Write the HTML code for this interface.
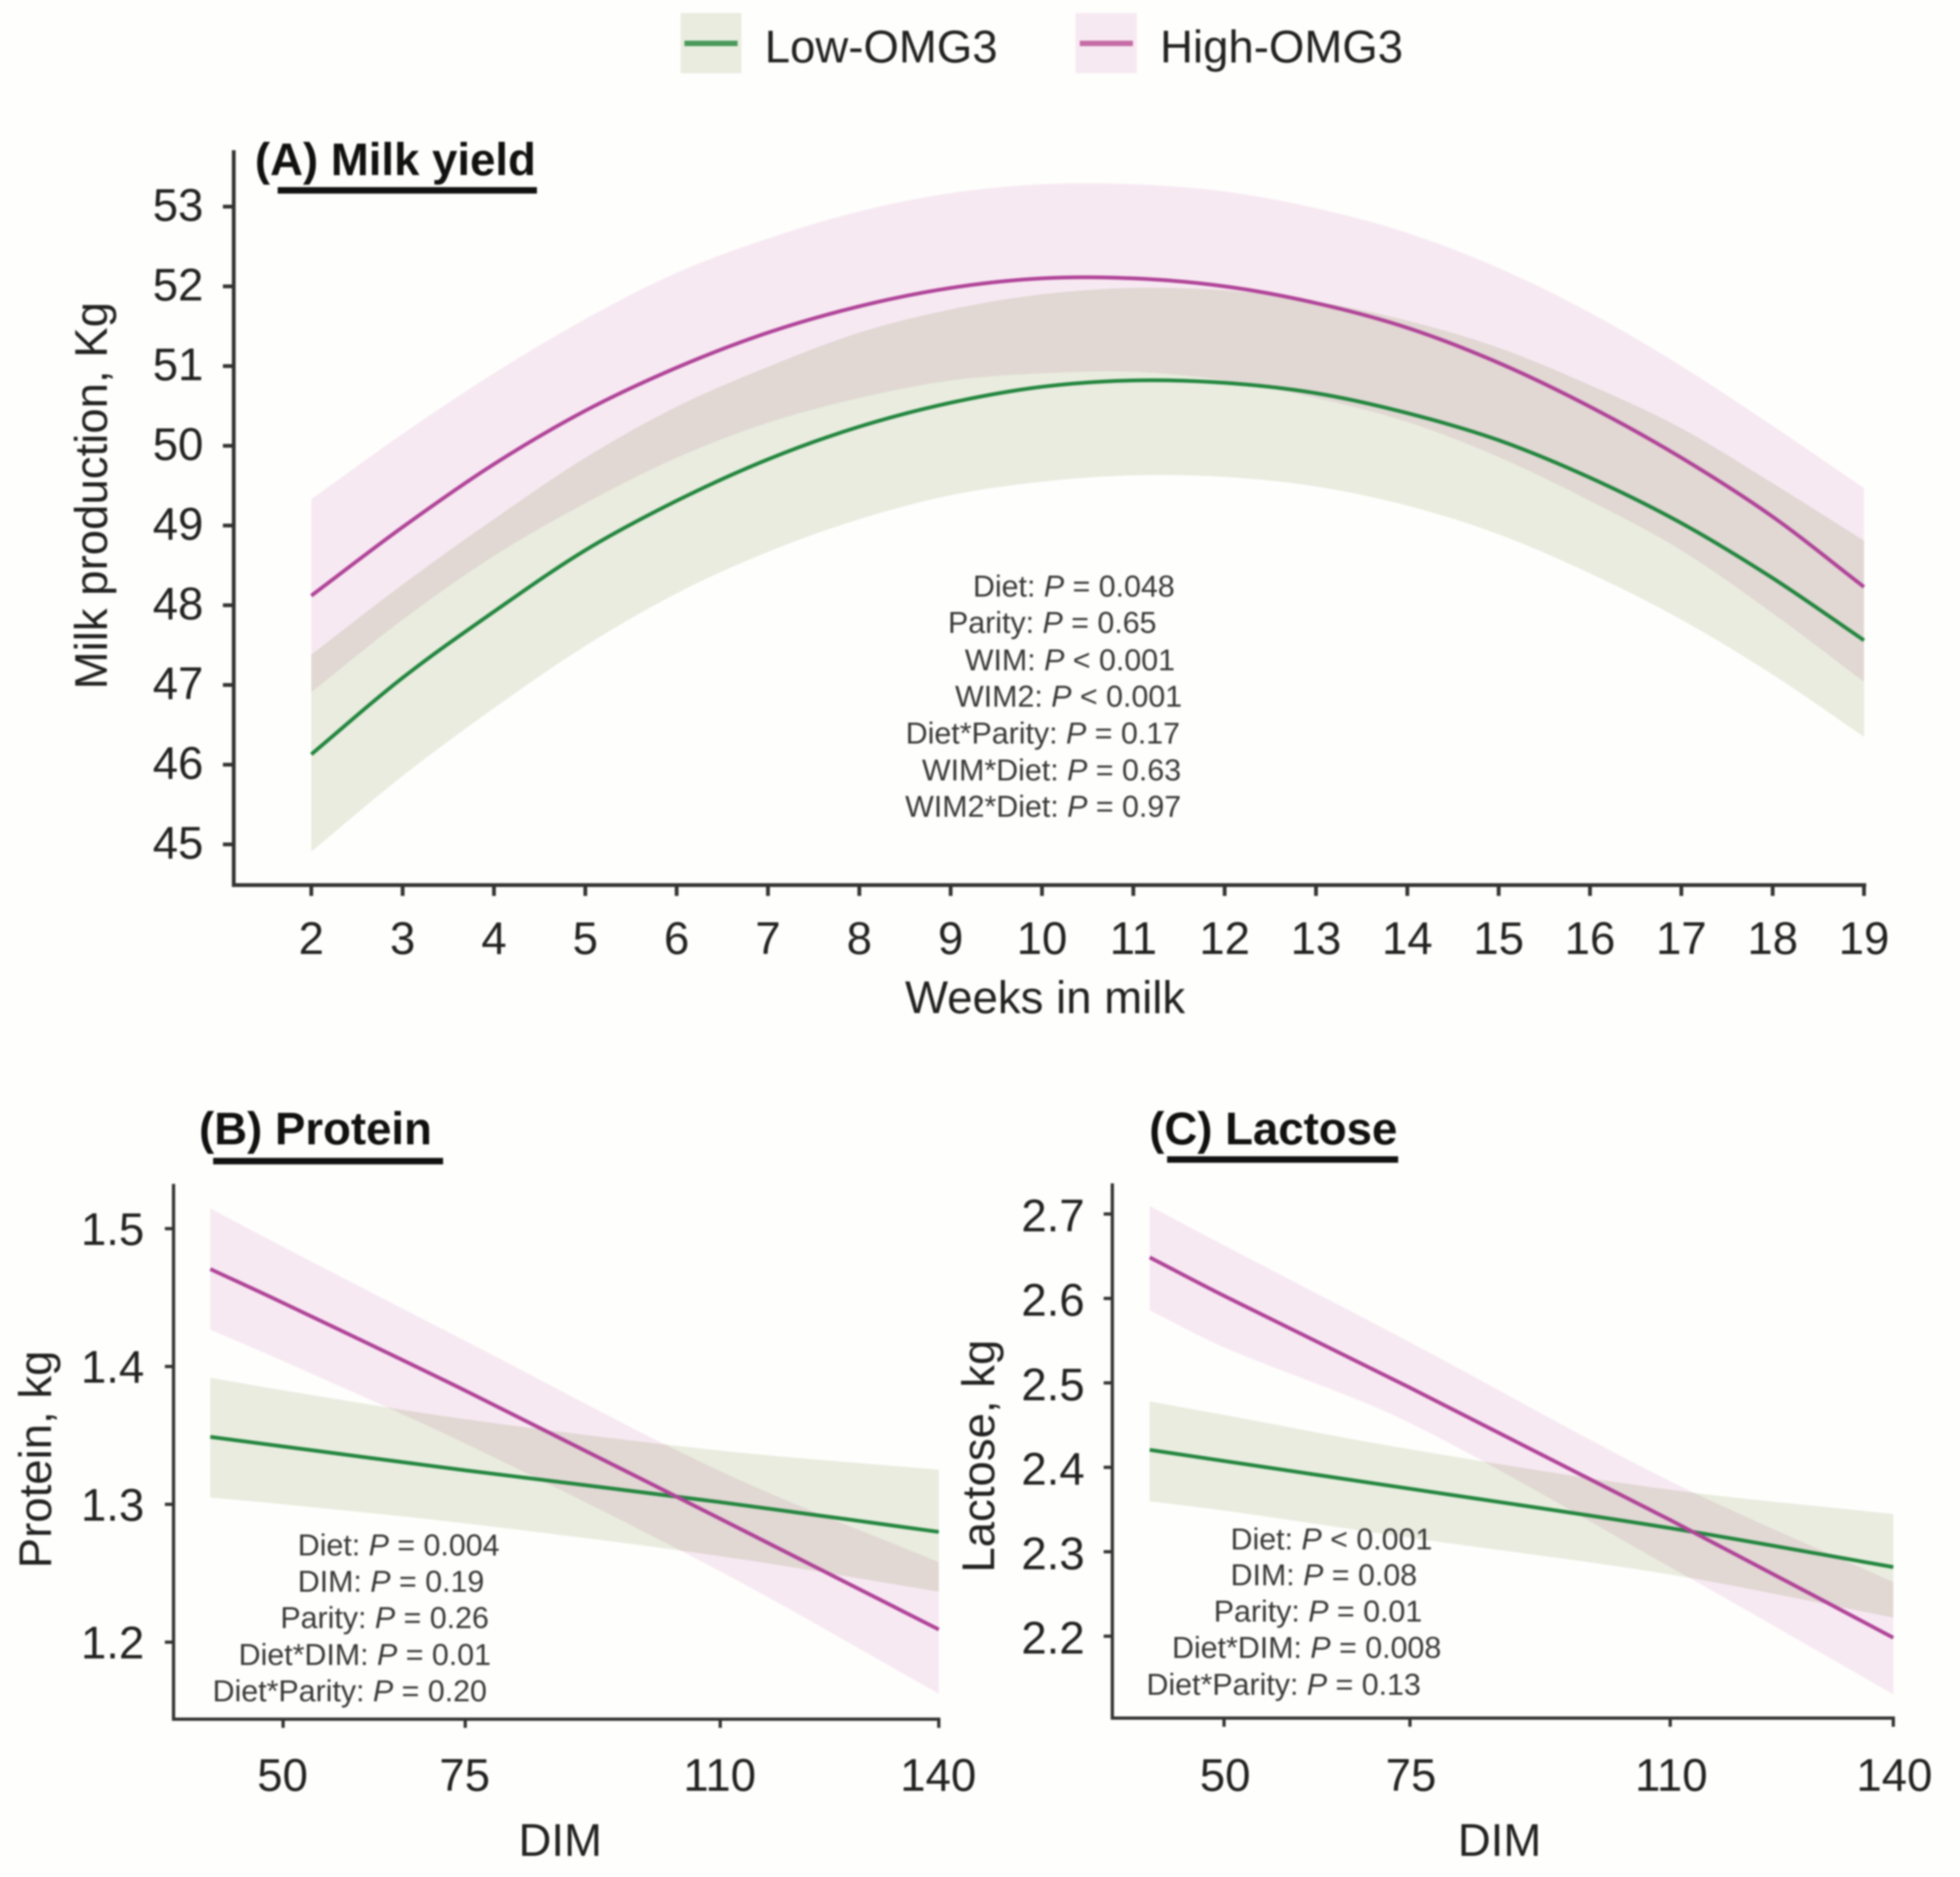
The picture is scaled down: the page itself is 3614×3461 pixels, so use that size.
<!DOCTYPE html>
<html lang="en">
<head>
<meta charset="utf-8">
<title>Milk yield, protein and lactose by diet</title>
<style>
html,body{margin:0;padding:0;background:#fefefc;}
svg{display:block;filter:blur(1.5px);}
text{font-family:"Liberation Sans",sans-serif;fill:#222;}
.t{font-size:84px;}
.h{font-size:84px;font-weight:bold;fill:#111;}
.s{font-size:56px;fill:#383838;}
.s tspan{font-style:italic;}
</style>
</head>
<body>
<svg id="fig" xmlns="http://www.w3.org/2000/svg" width="3614" height="3461" viewBox="0 0 3614 3461">
<rect width="3614" height="3461" fill="#fefefc"/>

<g>
  <g>
    <rect x="1255" y="24" width="112" height="111" fill="#e9ecdf"/>
    <line x1="1262" x2="1360" y1="80" y2="80" stroke="#4a9a5a" stroke-width="10"/>
    <text class="t" x="1410" y="115">Low-OMG3</text>
  </g>
  <g>
    <rect x="1983" y="24" width="113" height="111" fill="#f7e9f2"/>
    <line x1="1991" x2="2089" y1="80" y2="80" stroke="#c56ca6" stroke-width="10"/>
    <text class="t" x="2139" y="115">High-OMG3</text>
  </g>
</g>

<g id="panelA">
  <text class="h" x="470" y="323">(A) Milk yield</text>
  <rect x="512" y="345" width="478" height="12" fill="#111"/>
  <text class="t" text-anchor="middle" transform="translate(197,914) rotate(-90)">Milk production, Kg</text>
  <text class="t" text-anchor="middle" x="1927" y="1868">Weeks in milk</text>
</g>
<g id="panelB">
  <text class="h" x="367" y="2110">(B) Protein</text>
  <rect x="393" y="2135" width="424" height="12" fill="#111"/>
  <text class="t" text-anchor="middle" transform="translate(94,2691) rotate(-90)">Protein, kg</text>
  <text class="t" text-anchor="middle" x="1033" y="3422">DIM</text>
</g>
<g id="panelC">
  <text class="h" x="2119" y="2110">(C) Lactose</text>
  <rect x="2152" y="2132" width="426" height="12" fill="#111"/>
  <text class="t" text-anchor="middle" transform="translate(1833,2685) rotate(-90)">Lactose, kg</text>
  <text class="t" text-anchor="middle" x="2765" y="3422">DIM</text>
</g>
</svg>

<script>
// ---- Panel A data ----
const weeks = [2,3,4,5,6,7,8,9,10,11,12,13,14,15,16,17,18,19];
const yieldTicks = [45,46,47,48,49,50,51,52,53];
const highYield = [48.12,48.98,49.77,50.44,50.98,51.42,51.75,51.98,52.1,52.1,52.0,51.79,51.48,51.04,50.49,49.85,49.11,48.23];
const highYieldUpper = [49.33,50.15,50.91,51.59,52.17,52.6,52.94,53.17,53.28,53.28,53.19,52.98,52.67,52.23,51.67,51.0,50.25,49.47];
const highYieldLower = [46.91,47.82,48.62,49.28,49.85,50.29,50.6,50.82,50.91,50.93,50.82,50.6,50.3,49.86,49.31,48.69,47.9,47.04];
const lowYield = [46.13,47.09,47.92,48.69,49.31,49.83,50.24,50.54,50.74,50.82,50.79,50.66,50.41,50.07,49.6,49.03,48.34,47.56];
const lowYieldUpper = [47.38,48.26,49.08,49.85,50.49,50.99,51.42,51.71,51.9,51.98,51.95,51.81,51.57,51.23,50.76,50.22,49.53,48.81];
const lowYieldLower = [44.91,45.86,46.71,47.49,48.15,48.67,49.08,49.38,49.55,49.63,49.61,49.49,49.25,48.89,48.4,47.82,47.13,46.35];

// ---- Panels B and C data ----
const dim = [40,50,75,110,140];
const dimTicks = [50,75,110,140];
const proteinTicks = [1.2,1.3,1.4,1.5];
const highProtein = [1.4707,1.4461,1.3825,1.2895,1.2092];
const highProteinUpper = [1.5147,1.4868,1.4186,1.324,1.258];
const highProteinLower = [1.4267,1.4039,1.3442,1.2514,1.1626];
const lowProtein = [1.3489,1.342,1.3247,1.3016,1.28];
const lowProteinUpper = [1.3918,1.3827,1.3618,1.339,1.3251];
const lowProteinLower = [1.3049,1.3001,1.2862,1.2624,1.2367];
const lactoseTicks = [2.2,2.3,2.4,2.5,2.6,2.7];
const highLactose = [2.6486,2.6031,2.4943,2.3376,2.1982];
const highLactoseUpper = [2.7096,2.6629,2.5481,2.3836,2.264];
const highLactoseLower = [2.5858,2.5421,2.4524,2.2819,2.1312];
const lowLactose = [2.4207,2.4075,2.3746,2.328,2.2819];
const lowLactoseUpper = [2.4781,2.462,2.4213,2.3734,2.3447];
const lowLactoseLower = [2.3597,2.3489,2.3166,2.273,2.2221];

// ---- Printed statistics ----
const statsA = [["Diet: ","P"," = 0.048"],["Parity: ","P"," = 0.65"],["WIM: ","P"," < 0.001"],["WIM2: ","P"," < 0.001"],["Diet*Parity: ","P"," = 0.17"],["WIM*Diet: ","P"," = 0.63"],["WIM2*Diet: ","P"," = 0.97"]];
const statsB = [["Diet: ","P"," = 0.004"],["DIM: ","P"," = 0.19"],["Parity: ","P"," = 0.26"],["Diet*DIM: ","P"," = 0.01"],["Diet*Parity: ","P"," = 0.20"]];
const statsC = [["Diet: ","P"," < 0.001"],["DIM: ","P"," = 0.08"],["Parity: ","P"," = 0.01"],["Diet*DIM: ","P"," = 0.008"],["Diet*Parity: ","P"," = 0.13"]];

const NS = 'http://www.w3.org/2000/svg';
function mk(parent, tag, attrs, txt) {
  const el = document.createElementNS(NS, tag);
  for (const k in attrs) el.setAttribute(k, attrs[k]);
  if (txt !== undefined) el.textContent = txt;
  parent.appendChild(el);
  return el;
}
function linear(d0, d1, r0, r1) {
  return v => r0 + (v - d0) * (r1 - r0) / (d1 - d0);
}
// Smooth curve segments through screen points (Catmull-Rom to Bezier, x-proportional tangents)
function curveSegs(pts) {
  let d = '';
  const n = pts.length;
  const slope = i => {
    const a = pts[Math.max(0, i - 1)], b = pts[Math.min(n - 1, i + 1)];
    return (b[1] - a[1]) / (b[0] - a[0]);
  };
  for (let i = 0; i < n - 1; i++) {
    const p = pts[i], q = pts[i + 1], h = (q[0] - p[0]) / 3;
    d += 'C' + (p[0] + h).toFixed(1) + ' ' + (p[1] + slope(i) * h).toFixed(1) + ' ' +
         (q[0] - h).toFixed(1) + ' ' + (q[1] - slope(i + 1) * h).toFixed(1) + ' ' +
         q[0].toFixed(1) + ' ' + q[1].toFixed(1);
  }
  return d;
}
function drawPanel(cfg) {
  const g = document.getElementById(cfg.id);
  const xs = cfg.xs;
  const bandG = mk(g, 'g', {style: 'isolation:isolate'});
  
  
  cfg.series.forEach(s => {
    const up = xs.map((v, i) => [cfg.x(v), cfg.y(s.upper[i])]);
    const lo = xs.map((v, i) => [cfg.x(v), cfg.y(s.lower[i])]).reverse();
    const d = 'M' + up[0][0].toFixed(1) + ' ' + up[0][1].toFixed(1) + curveSegs(up) +
              'L' + lo[0][0].toFixed(1) + ' ' + lo[0][1].toFixed(1) + curveSegs(lo) + 'Z';
    const band = mk(bandG, 'path', {d: d, fill: s.band, style: 'mix-blend-mode:multiply'});
    
    
  });
  cfg.series.forEach(s => {
    const pts = xs.map((v, i) => [cfg.x(v), cfg.y(s.mean[i])]);
    const d = 'M' + pts[0][0].toFixed(1) + ' ' + pts[0][1].toFixed(1) + curveSegs(pts);
    const line = mk(g, 'path', {d: d, fill: 'none', stroke: s.color, 'stroke-width': 7});
    
    
  });
  const axisColor = '#333331';
  const yAxis = mk(g, 'line', {x1: cfg.ax, x2: cfg.ax, y1: cfg.top, y2: cfg.ay + cfg.sw / 2, stroke: axisColor, 'stroke-width': cfg.sw});
  
  
  const xAxis = mk(g, 'line', {x1: cfg.ax, x2: cfg.xEnd, y1: cfg.ay, y2: cfg.ay, stroke: axisColor, 'stroke-width': cfg.sw});
  
  
  cfg.yTicks.forEach(v => {
    const y = cfg.y(v);
    const tick = mk(g, 'line', {x1: cfg.ax - cfg.tl, x2: cfg.ax, y1: y, y2: y, stroke: axisColor, 'stroke-width': cfg.sw});
    
    
    const lab = mk(g, 'text', {class: 't', x: cfg.ylx, y: y + cfg.ylOff, 'text-anchor': 'end'}, cfg.yFmt(v));
    
    
  });
  cfg.xTicks.forEach(v => {
    const x = cfg.x(v);
    const tick = mk(g, 'line', {x1: x, x2: x, y1: cfg.ay, y2: cfg.ay + cfg.tl, stroke: axisColor, 'stroke-width': cfg.sw});
    
    
    const lab = mk(g, 'text', {class: 't', x: x - cfg.xlShift, y: cfg.xlb, 'text-anchor': 'middle'}, String(v));
    
    
  });
  cfg.stats.forEach((row, i) => {
    const t = mk(g, 'text', {class: 's', x: cfg.statX[i], y: cfg.statY[i]});
    
    
    t.appendChild(document.createTextNode(row[0]));
    mk(t, 'tspan', {}, row[1]);
    t.appendChild(document.createTextNode(row[2]));
  });
}

drawPanel({
  id: 'panelA', xs: weeks, xTicks: weeks, yTicks: yieldTicks,
  x: linear(2, 19, 574, 3437), y: linear(53, 45, 381, 1557),
  ax: 431, ay: 1632, top: 277, xEnd: 3441, sw: 7, tl: 20,
  ylx: 375, ylOff: 26, xlb: 1759, xlShift: 0, yFmt: v => String(v),
  stats: statsA,
  statX: [1794,1748,1779,1761,1670,1700,1669],
  statY: [1100,1167,1236,1303,1371,1439,1506],
  series: [
    {name: 'low-omg3', mean: lowYield, upper: lowYieldUpper, lower: lowYieldLower, band: '#e9ecdf', color: '#24863f'},
    {name: 'high-omg3', mean: highYield, upper: highYieldUpper, lower: highYieldLower, band: '#f7e9f2', color: '#b04498'}
  ]
});
drawPanel({
  id: 'panelB', xs: dim, xTicks: dimTicks, yTicks: proteinTicks,
  x: linear(50, 140, 522, 1731), y: linear(1.5, 1.2, 2265.5, 3028),
  ax: 320, ay: 3170, top: 2183, xEnd: 1734, sw: 6, tl: 16,
  ylx: 266, ylOff: 30, xlb: 3302, xlShift: 1, yFmt: v => v.toFixed(1),
  stats: statsB,
  statX: [549,549,517,440,392],
  statY: [2868,2935,3002,3070,3137],
  series: [
    {name: 'low-omg3', mean: lowProtein, upper: lowProteinUpper, lower: lowProteinLower, band: '#e9ecdf', color: '#24863f'},
    {name: 'high-omg3', mean: highProtein, upper: highProteinUpper, lower: highProteinLower, band: '#f7e9f2', color: '#b04498'}
  ]
});
drawPanel({
  id: 'panelC', xs: dim, xTicks: dimTicks, yTicks: lactoseTicks,
  x: linear(50, 140, 2257, 3491), y: linear(2.7, 2.2, 2238.5, 3017),
  ax: 2051, ay: 3168, top: 2182, xEnd: 3494, sw: 6, tl: 16,
  ylx: 2000, ylOff: 32, xlb: 3302, xlShift: -2, yFmt: v => v.toFixed(1),
  stats: statsC,
  statX: [2269,2269,2238,2161,2114],
  statY: [2857,2923,2990,3057,3125],
  series: [
    {name: 'low-omg3', mean: lowLactose, upper: lowLactoseUpper, lower: lowLactoseLower, band: '#e9ecdf', color: '#24863f'},
    {name: 'high-omg3', mean: highLactose, upper: highLactoseUpper, lower: highLactoseLower, band: '#f7e9f2', color: '#b04498'}
  ]
});
</script>
</body>
</html>
